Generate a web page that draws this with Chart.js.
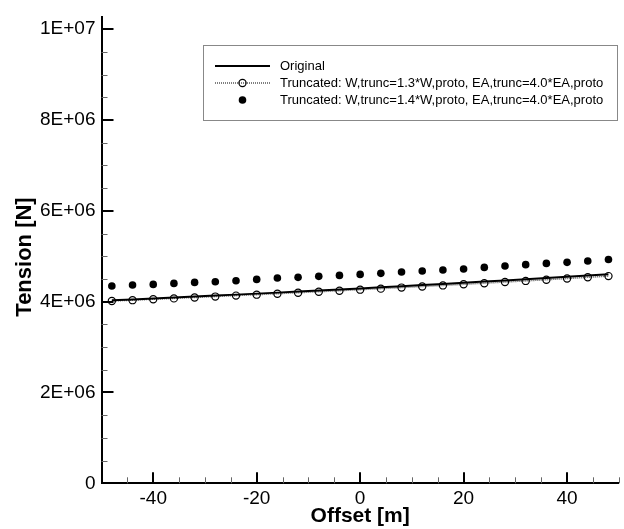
<!DOCTYPE html>
<html>
<head>
<meta charset="utf-8">
<script src="https://cdn.jsdelivr.net/npm/chart.js@4.4.0/dist/chart.umd.min.js"></script>
<style>
  html, body { margin: 0; padding: 0; background: #fff; }
  #wrap { width: 624px; height: 529px; }
</style>
</head>
<body>
<div id="wrap"><canvas id="chart" width="624" height="529"></canvas></div>
<script>
// offsets along the line [m]
var offsets = [-48, -44, -40, -36, -32, -28, -24, -20, -16, -12, -8, -4, 0, 4, 8, 12, 16, 20, 24, 28, 32, 36, 40, 44, 48];

// tension [N]
var original = [4.030e6, 4.050e6, 4.070e6, 4.091e6, 4.112e6, 4.133e6, 4.155e6, 4.177e6, 4.199e6, 4.222e6, 4.245e6, 4.268e6, 4.292e6,
  4.316e6, 4.340e6, 4.365e6, 4.390e6, 4.416e6, 4.442e6, 4.468e6, 4.495e6, 4.522e6, 4.550e6, 4.578e6, 4.606e6];
var trunc13 = [4.015e6, 4.033e6, 4.052e6, 4.072e6, 4.092e6, 4.112e6, 4.133e6, 4.154e6, 4.175e6, 4.197e6, 4.219e6, 4.241e6, 4.264e6,
  4.287e6, 4.310e6, 4.334e6, 4.358e6, 4.382e6, 4.407e6, 4.432e6, 4.457e6, 4.483e6, 4.509e6, 4.536e6, 4.563e6];
var trunc14 = [4.345e6, 4.366e6, 4.380e6, 4.402e6, 4.424e6, 4.440e6, 4.462e6, 4.490e6, 4.520e6, 4.535e6, 4.557e6, 4.578e6, 4.600e6,
  4.623e6, 4.653e6, 4.675e6, 4.698e6, 4.720e6, 4.755e6, 4.785e6, 4.815e6, 4.843e6, 4.866e6, 4.896e6, 4.930e6];

var xMajorTicks = [-40, -20, 0, 20, 40];
var yMajorTicks = [0, 2e6, 4e6, 6e6, 8e6, 1e7];
var legendLabels = ['Original',
  'Truncated: W,trunc=1.3*W,proto, EA,trunc=4.0*EA,proto',
  'Truncated: W,trunc=1.4*W,proto, EA,trunc=4.0*EA,proto'];

var FONT = "'Liberation Sans', Arial, sans-serif";

function toPoints(ys) {
  return offsets.map((x, i) => ({ x: x, y: ys[i] }));
}

// 8000000 -> 8E+06
function sciLabel(v) {
  if (v === 0) return '0';
  var exp = Math.floor(Math.log10(v) + 1e-9);
  var mant = Math.round(v / Math.pow(10, exp));
  return mant + 'E+' + String(exp).padStart(2, '0');
}

// inward tick marks, axis titles and the boxed legend
const tecplotExtras = {
  id: 'tecplotExtras',
  afterDatasetsDraw(chart) {
    const ctx = chart.ctx;
    const xs = chart.scales.x, ys = chart.scales.y;
    const area = chart.chartArea;
    ctx.save();

    // minor ticks
    ctx.strokeStyle = '#666';
    ctx.lineWidth = 1;
    ctx.beginPath();
    for (let v = -45; v <= 50; v += 5) {
      if (xMajorTicks.includes(v)) continue;
      const px = Math.round(xs.getPixelForValue(v)) + 0.5;
      ctx.moveTo(px, area.bottom);
      ctx.lineTo(px, area.bottom - 6);
    }
    for (let v = 5e5; v < 1e7; v += 5e5) {
      if (yMajorTicks.includes(v)) continue;
      const py = Math.round(ys.getPixelForValue(v)) + 0.5;
      ctx.moveTo(area.left, py);
      ctx.lineTo(area.left + 6, py);
    }
    ctx.stroke();

    // major ticks
    ctx.strokeStyle = '#000';
    ctx.lineWidth = 2;
    ctx.beginPath();
    xMajorTicks.forEach(v => {
      const px = Math.round(xs.getPixelForValue(v));
      ctx.moveTo(px, area.bottom);
      ctx.lineTo(px, area.bottom - 11);
    });
    yMajorTicks.forEach(v => {
      if (v === 0) return;
      const py = Math.round(ys.getPixelForValue(v));
      ctx.moveTo(area.left, py);
      ctx.lineTo(area.left + 12, py);
    });
    ctx.stroke();

    // axis titles
    ctx.fillStyle = '#000';
    ctx.textAlign = 'center';
    ctx.textBaseline = 'middle';
    ctx.font = 'bold 21px ' + FONT;
    ctx.fillText('Offset [m]', (area.left + area.right) / 2, 516);
    ctx.save();
    ctx.font = 'bold 22px ' + FONT;
    ctx.translate(25, 257);
    ctx.rotate(-Math.PI / 2);
    ctx.fillText('Tension [N]', 0, 0);
    ctx.restore();

    // legend
    const box = { x: 203.5, y: 45.5, w: 414, h: 75 };
    ctx.fillStyle = '#fff';
    ctx.fillRect(box.x, box.y, box.w, box.h);
    ctx.strokeStyle = '#888';
    ctx.lineWidth = 1;
    ctx.strokeRect(box.x, box.y, box.w, box.h);

    const rows = [66, 83, 100];
    const x0 = 215, x1 = 270, xm = 242.5;
    chart.data.datasets.forEach((ds, i) => {
      const y = rows[i];
      if (ds.showLine !== false) {
        ctx.save();
        ctx.strokeStyle = ds.borderColor;
        ctx.lineWidth = ds.borderWidth;
        ctx.setLineDash(ds.borderDash || []);
        ctx.beginPath();
        ctx.moveTo(x0, y);
        ctx.lineTo(x1, y);
        ctx.stroke();
        ctx.restore();
      }
      if (ds.pointRadius > 0) {
        ctx.beginPath();
        ctx.arc(xm, y, ds.pointRadius, 0, Math.PI * 2);
        ctx.fillStyle = ds.pointBackgroundColor;
        ctx.fill();
        if (ds.pointBorderWidth > 0) {
          ctx.strokeStyle = ds.pointBorderColor;
          ctx.lineWidth = ds.pointBorderWidth;
          ctx.stroke();
        }
      }
      ctx.fillStyle = '#000';
      ctx.font = '13px ' + FONT;
      ctx.textAlign = 'left';
      ctx.textBaseline = 'middle';
      ctx.fillText(legendLabels[i], 280, y);
    });

    ctx.restore();
  }
};

new Chart(document.getElementById('chart'), {
  type: 'line',
  data: {
    datasets: [
      {
        label: legendLabels[0],
        data: toPoints(original),
        borderColor: '#000',
        borderWidth: 2,
        pointRadius: 0,
        tension: 0
      },
      {
        label: legendLabels[1],
        data: toPoints(trunc13),
        borderColor: '#555',
        borderWidth: 1.5,
        borderDash: [1, 1],
        pointRadius: 3.6,
        pointBorderColor: '#000',
        pointBackgroundColor: 'rgba(255,255,255,0)',
        pointBorderWidth: 1.2,
        tension: 0
      },
      {
        label: legendLabels[2],
        data: toPoints(trunc14),
        showLine: false,
        pointRadius: 3.8,
        pointBackgroundColor: '#000',
        pointBorderColor: '#000',
        pointBorderWidth: 0
      }
    ]
  },
  options: {
    responsive: false,
    animation: false,
    devicePixelRatio: 1,
    layout: { padding: { left: 0, right: 4.5, top: 12, bottom: 0 } },
    plugins: {
      legend: { display: false },
      tooltip: { enabled: false }
    },
    scales: {
      x: {
        type: 'linear',
        min: -50,
        max: 50,
        afterBuildTicks: s => { s.ticks = xMajorTicks.map(v => ({ value: v })); },
        afterFit: s => { s.height = 45.7; },
        grid: { display: false, drawTicks: false },
        border: { display: true, color: '#000', width: 2 },
        ticks: {
          autoSkip: false,
          maxRotation: 0,
          padding: 4,
          color: '#000',
          font: { family: FONT, size: 19 }
        }
      },
      y: {
        type: 'linear',
        min: 0,
        max: 10.26e6,
        afterBuildTicks: s => { s.ticks = yMajorTicks.map(v => ({ value: v })); },
        afterFit: s => { s.width = 101.5; },
        grid: { display: false, drawTicks: false },
        border: { display: true, color: '#000', width: 2 },
        ticks: {
          padding: 6,
          color: '#000',
          font: { family: FONT, size: 19 },
          callback: v => sciLabel(v)
        }
      }
    }
  },
  plugins: [tecplotExtras]
});
</script>
</body>
</html>
